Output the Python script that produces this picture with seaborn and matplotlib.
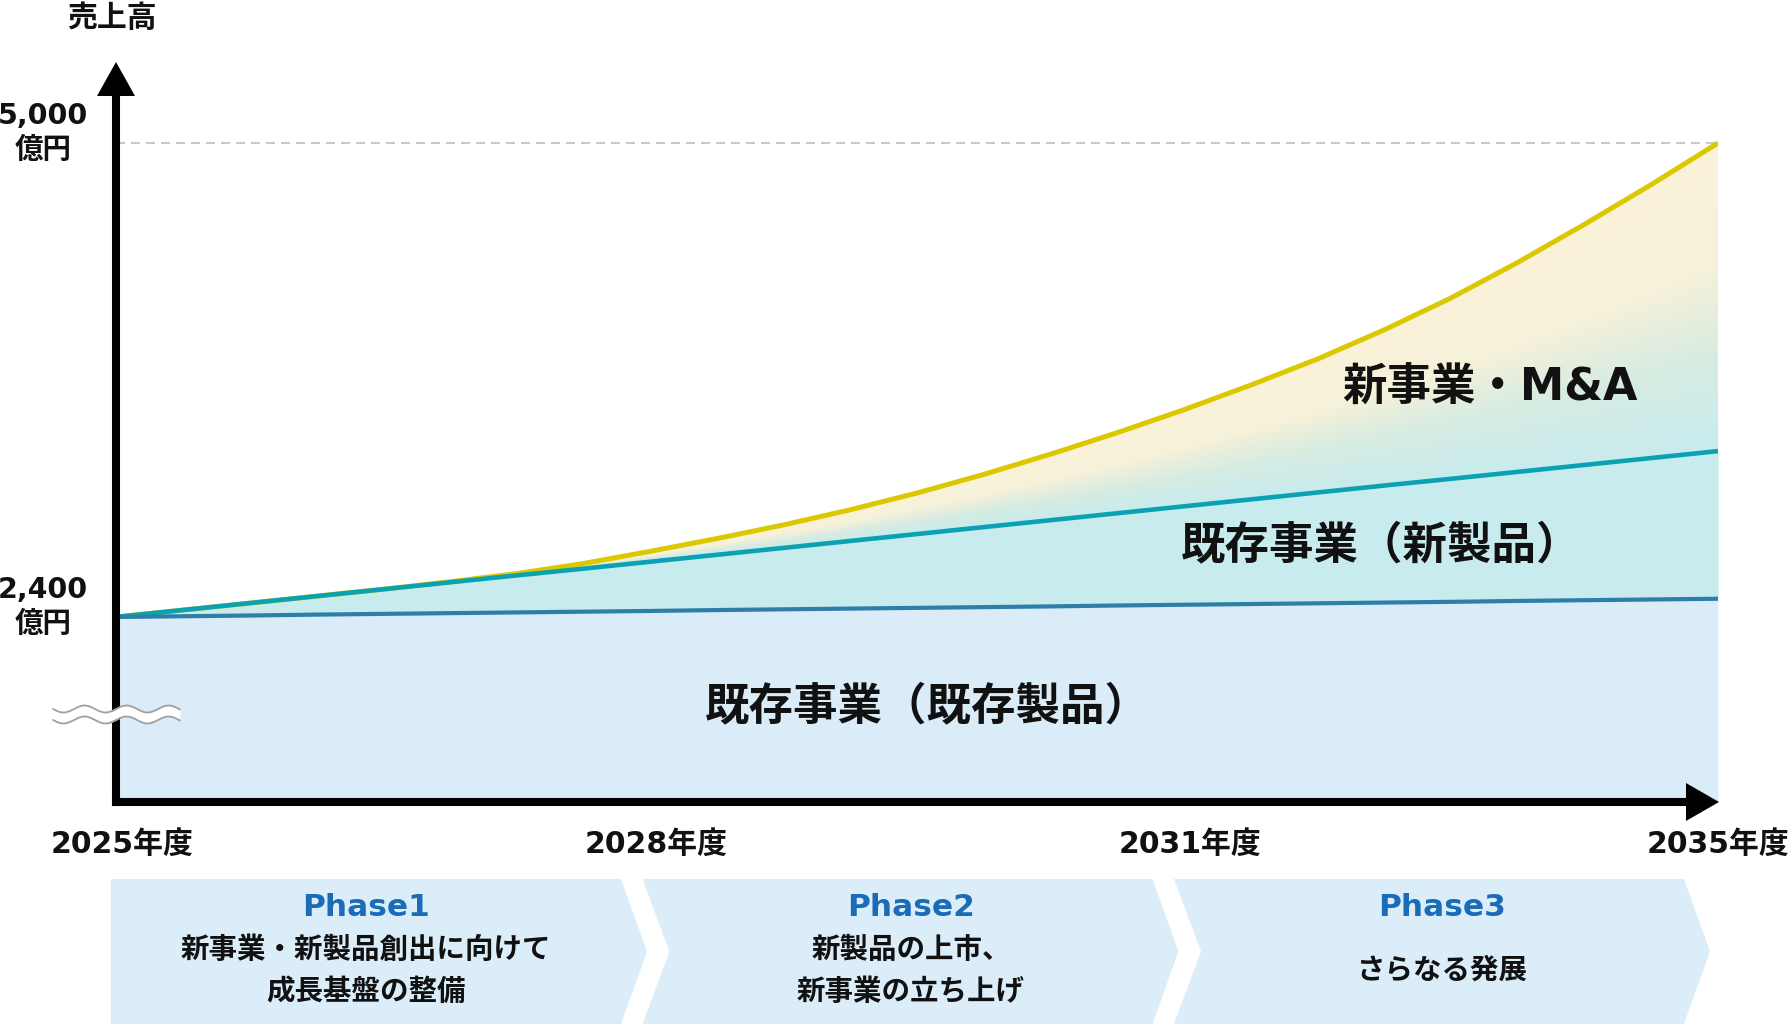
import numpy as np
import pandas as pd
import matplotlib
matplotlib.use("Agg")
import matplotlib.pyplot as plt
from matplotlib.colors import LinearSegmentedColormap
from matplotlib.patches import Polygon
from matplotlib.transforms import ScaledTranslation
import seaborn as sns

W, H = 1788, 1026

# timeline position: 0 = 2025, 1 = 2028, 2 = 2031, 3 = 2035 (one unit per phase)
pos = [0.0, 0.125, 0.25, 0.375, 0.5, 0.625, 0.75, 0.875, 1.0, 1.125, 1.25, 1.375, 1.5,
       1.625, 1.75, 1.875, 2.0, 2.125, 2.25, 2.375, 2.5, 2.625, 2.75, 2.875, 3.0]
existing = [2400, 2404, 2408, 2413, 2417, 2421, 2425, 2429, 2433, 2438, 2442, 2446, 2450,
            2454, 2458, 2463, 2467, 2471, 2475, 2479, 2483, 2488, 2492, 2496, 2500]
new_products = [2400, 2438, 2476, 2514, 2552, 2590, 2628, 2665, 2703, 2741, 2779, 2817, 2855,
                2893, 2931, 2969, 3007, 3045, 3083, 3121, 3158, 3196, 3234, 3272, 3310]
new_business = [2400, 2438, 2476, 2514, 2552, 2593, 2638, 2693, 2760, 2830, 2905, 2988, 3080,
                3182, 3293, 3411, 3537, 3672, 3815, 3975, 4150, 4345, 4554, 4772, 5000]

year_ticks = [0, 1, 2, 3]
year_labels = ['2025年度', '2028年度', '2031年度', '2035年度']
value_ticks = [2400, 5000]
value_labels = ['2,400\n億円', '5,000\n億円']

area_labels = ['既存事業（既存製品）', '既存事業（新製品）', '新事業・M&A']
area_label_pos = [(1.52, 1906), (2.37, 2789), (2.573, 3656)]

phase_titles = ['Phase1', 'Phase2', 'Phase3']
phase_texts = ['新事業・新製品創出に向けて\n成長基盤の整備', '新製品の上市、\n新事業の立ち上げ', 'さらなる発展']

sns.set_theme(style='white')
plt.rcParams['font.family'] = ['DejaVu Sans', 'Noto Sans CJK JP']
plt.rcParams['font.weight'] = 'bold'

fig = plt.figure(figsize=(W / 100, H / 100), dpi=100)
ax = fig.add_axes([116 / W, (H - 802) / H, (1718 - 116) / W, (802 - 63) / H])
ax.patch.set_alpha(0)
ymin, ymax = 1385, 5439

# stacked bands
ax.fill_between(pos, ymin, existing, color='#DAECF8', lw=0, zorder=1)
ax.fill_between(pos, existing, new_products, color='#C8EBEE', lw=0, zorder=1)
top = ax.fill_between(pos, new_products, new_business, facecolor='none', lw=0, zorder=1)

# gradient for the new business band (teal at bottom -> cream at top)
gx = np.linspace(0, 3, 500)
gy = np.linspace(2400, 5000, 500)
GX, GY = np.meshgrid(gx, gy)
lo = np.interp(gx, pos, new_products)
hi = np.interp(gx, pos, new_business)
frac = np.clip((GY - lo) / np.maximum(hi - lo, 1), 0, 1)
band_cmap = LinearSegmentedColormap.from_list(
    'band', [(0, '#C8EBEE'), (0.3, '#D6ECE2'), (0.6, '#F6F1D9'), (1, '#FAF3DA')])
im = ax.imshow(frac, extent=[0, 3, 2400, 5000], origin='lower', aspect='auto',
               cmap=band_cmap, vmin=0, vmax=1, zorder=1, interpolation='bilinear')
im.set_clip_path(top.get_paths()[0], transform=ax.transData)

# lines
df = pd.DataFrame({'pos': pos * 3,
                   'value': new_business + new_products + existing,
                   'series': ['new_business'] * len(pos) + ['new_products'] * len(pos) + ['existing'] * len(pos)})
line_style = {'new_business': ('#DCC800', 3.6), 'new_products': ('#0AA2B2', 3.3), 'existing': ('#2E7EA8', 3.0)}
for name, (col, lw) in line_style.items():
    sns.lineplot(data=df[df['series'] == name], x='pos', y='value', color=col, linewidth=lw,
                 ax=ax, zorder=3, solid_capstyle='butt', solid_joinstyle='round')

ax.hlines(value_ticks[-1], pos[0], pos[-1], colors='#BDBDBD', linestyles=(0, (5.4, 3.6)), lw=1.2, zorder=0.5)

ax.set_xlim(0, 3)
ax.set_ylim(ymin, ymax)
ax.set_xlabel('')
ax.set_ylabel('')

# axes as thick arrows
sns.despine(ax=ax, top=True, right=True)
for s in ['left', 'bottom']:
    ax.spines[s].set_linewidth(5.8)
    ax.spines[s].set_color('black')
    ax.spines[s].set_capstyle('projecting')
    ax.spines[s].set_zorder(4)
ax.spines['left'].set_bounds(ymin, 5250)
ax.spines['bottom'].set_bounds(0, 2.944)

ax.set_xticks(year_ticks, year_labels, fontsize=21.5, fontweight='bold', color='#111111')
ax.set_yticks(value_ticks, value_labels, fontsize=20.5, fontweight='bold', color='#111111',
              multialignment='center', linespacing=1.25)
ax.tick_params(axis='x', length=0, pad=20)
ax.tick_params(axis='y', length=0, pad=20)
for lbl in ax.get_yticklabels():
    lbl.set_transform(lbl.get_transform() + ScaledTranslation(0, 0.16, fig.dpi_scale_trans))
for lbl in ax.get_xticklabels()[:-1]:
    lbl.set_transform(lbl.get_transform() + ScaledTranslation(0.06, 0, fig.dpi_scale_trans))

for txt, (x, y) in zip(area_labels, area_label_pos):
    ax.text(x, y, txt, ha='center', va='center', fontsize=32, fontweight='bold', color='#111111', zorder=5)

# decorations in pixel coordinates
deco = fig.add_axes([0, 0, 1, 1], zorder=3)
deco.set_xlim(0, W)
deco.set_ylim(H, 0)
deco.axis('off')
deco.patch.set_alpha(0)

deco.add_patch(Polygon([(116, 62), (97, 96), (135, 96)], closed=True, color='black', lw=0))
deco.add_patch(Polygon([(1719, 802), (1686, 783), (1686, 821)], closed=True, color='black', lw=0))
deco.text(112, 18, '売上高', ha='center', va='center', fontsize=21.5, fontweight='bold', color='#111111')

# axis break mark
wx = np.linspace(53, 180, 300)
wave = 709 + 3.5 * np.sin(2 * np.pi * (wx - 53) / 42)
deco.fill_between(wx, wave, wave + 11, color='white', lw=0)
deco.plot(wx, wave, color='#A0A0A0', lw=1.3)
deco.plot(wx, wave + 11, color='#A0A0A0', lw=1.3)

# phase banners
for i, (title, desc) in enumerate(zip(phase_titles, phase_texts)):
    left = 111 + i * 531.5
    notch = 0 if i == 0 else 27
    pts = [(left, 879), (left + 510, 879), (left + 536, 951.5), (left + 510, 1024),
           (left, 1024), (left + notch, 951.5)]
    deco.add_patch(Polygon(pts, closed=True, color='#DAEDF9', lw=0))
    cx = left + 255 + notch / 2
    deco.text(cx, 908, title, ha='center', va='center', fontsize=22.5, fontweight='bold', color='#1A6BB8')
    deco.text(cx, 971, desc, ha='center', va='center', fontsize=20.5, fontweight='bold',
              color='#111111', linespacing=1.65)

fig.savefig('out.png', dpi=100)
